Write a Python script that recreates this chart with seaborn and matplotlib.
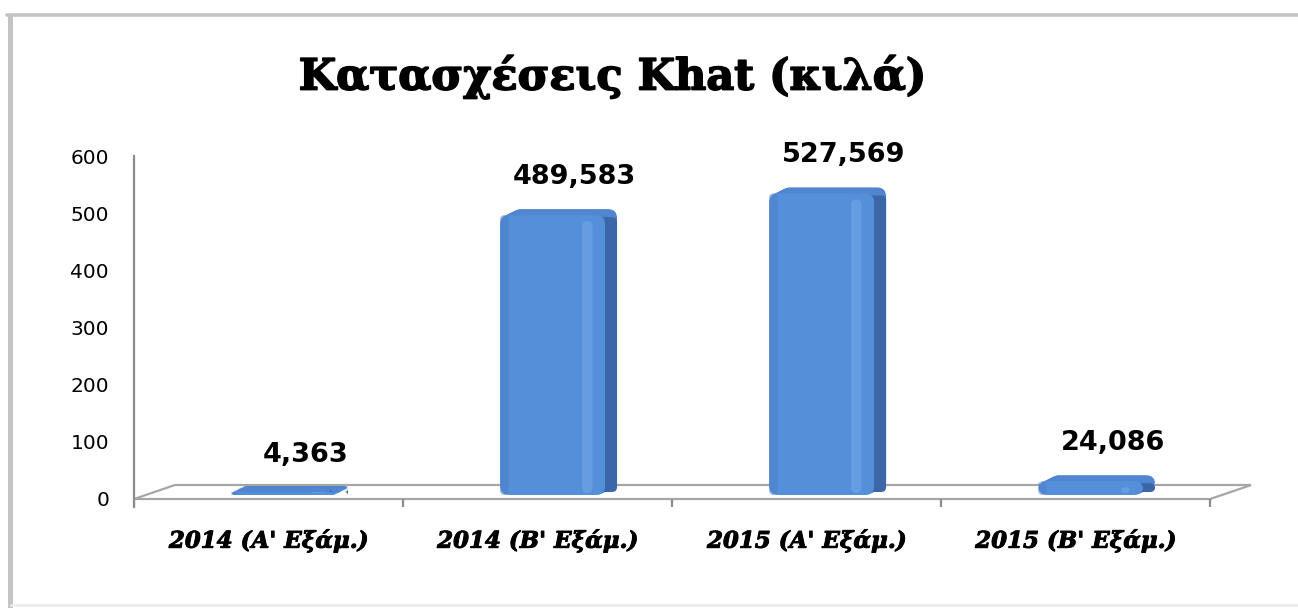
import numpy as np
import pandas as pd
import matplotlib
matplotlib.use("Agg")
import matplotlib.pyplot as plt
import matplotlib.patches as mpatches
import matplotlib.patheffects as pe
from matplotlib.lines import Line2D
import seaborn as sns

# Data: khat seizures per half-year (kg)
periods = ["2014 (Α' Εξάμ.)", "2014 (Β' Εξάμ.)", "2015 (Α' Εξάμ.)", "2015 (Β' Εξάμ.)"]
seizures_kg = [4.363, 489.583, 527.569, 24.086]
y_ticks = [0, 100, 200, 300, 400, 500, 600]
title = "Κατασχέσεις Khat (κιλά)"

df = pd.DataFrame({"Period": periods, "Kg": seizures_kg})

sns.set_style("white")
plt.rcParams['font.family'] = ['DejaVu Sans']
plt.rcParams['text.color'] = 'black'

W, H = 1298, 608
fig = plt.figure(figsize=(W / 100, H / 100), dpi=100)
fig.patch.set_facecolor("white")

# axes placed in pixel terms of the reference
left_px, right_px, top_px, bottom_px = 134, 1264, 156, 507
ax = fig.add_axes([left_px / W, (H - bottom_px) / H,
                   (right_px - left_px) / W, (bottom_px - top_px) / H])

front_color = "#568fd9"
back_color = "#4f86cf"
side_color = "#3b67a8"
axis_gray = "#8c8c8c"

sns.barplot(data=df, x="Period", y="Kg", width=0.39, color=front_color,
            saturation=1, ax=ax)

xmin, xmax, ymin, ymax = -0.5, 3.7, -14, 600
ax.set_xlim(xmin, xmax)
ax.set_ylim(ymin, ymax)

# pixel scale helpers
px_per_x = (right_px - left_px) / (xmax - xmin)
px_per_y = (bottom_px - top_px) / (ymax - ymin)
def dx(px):
    return px / px_per_x
def dy(px):
    return px / px_per_y

# 3D floor
n = len(periods)
floor_dx, floor_dy = dx(41), dy(14)
fl_kw = dict(color="#a6a6a6", lw=1.6, zorder=1, solid_capstyle="butt")
ax.plot([-0.5, n - 0.5], [0, 0], **fl_kw)
ax.plot([-0.5 + floor_dx, n - 0.5 + floor_dx], [floor_dy, floor_dy], **fl_kw)
ax.plot([-0.5, -0.5 + floor_dx], [0, floor_dy], **fl_kw)
ax.plot([n - 0.5, n - 0.5 + floor_dx], [0, floor_dy], **fl_kw)
ax.vlines(np.arange(n + 1) - 0.5, ymin, 0, color=axis_gray, lw=1.6, zorder=1)

def rbox(xy, w, h, r, **kw):
    return mpatches.FancyBboxPatch(xy, w, h, boxstyle=f"round,pad=0,rounding_size={r}",
                                   mutation_aspect=aspect, ec="none", **kw)

# turn flat bars into rounded extruded bars
aspect = px_per_x / px_per_y
shift_x, shift_y = dx(15), dy(4)
depth_x, depth_y = dx(12), dy(6)
r_px = 9
steps = 10
for p in ax.patches[:]:
    x0 = p.get_x() + shift_x
    y0 = p.get_y() + shift_y
    w = p.get_width()
    h = p.get_height()
    hh = max(h, dy(3))
    p.set_visible(False)
    r = min(dx(r_px), w / 2, h / aspect / 2 + dx(2.5))
    for k in range(steps, 0, -1):
        f = k / steps
        ax.add_patch(rbox((x0 + f * depth_x, y0 + f * depth_y), w, hh, r,
                          fc=back_color, zorder=3))
    # darker right side of the extrusion
    side_top = max(hh + depth_y - dy(r_px), dy(2))
    ax.add_patch(rbox((x0 + w - dx(6), y0 + depth_y * 0.5), dx(6) + depth_x,
                      side_top - depth_y * 0.5 + dy(1), min(r, dx(5)),
                      fc=side_color, zorder=3.5))
    ax.add_patch(rbox((x0, y0), w, hh, r, fc=front_color, zorder=4))
    ax.add_patch(rbox((x0 + 0.78 * w, y0 + dy(2)), 0.1 * w, max(h - dy(8), dy(1)),
                      min(0.05 * w, r), fc="#7fb0ee", alpha=0.4, zorder=5))
    ax.add_patch(rbox((x0, y0), 0.08 * w, hh, min(0.04 * w, r),
                      fc="#4a7fc6", alpha=0.5, zorder=5))
    ax.annotate(f"{h:.3f}".replace(".", ","),
                xy=(x0 + w / 2, y0 + h), xytext=(22 * 0.72, 38 * 0.72),
                textcoords="offset points", ha="center", va="center",
                fontsize=19.5, fontweight="bold", color="black", zorder=6)

# axes styling
for s in ["top", "right", "bottom"]:
    ax.spines[s].set_visible(False)
ax.spines["left"].set_color(axis_gray)
ax.spines["left"].set_linewidth(1.6)
ax.set_yticks(y_ticks)
ax.tick_params(axis="y", length=5, width=1.6, color=axis_gray, pad=13,
               labelsize=14.5, labelcolor="black")
ax.tick_params(axis="x", length=0, pad=16, labelcolor="black")
ax.set_xticks(range(n))
ax.set_xticklabels(periods, fontfamily="DejaVu Serif", fontstyle="italic",
                   fontweight="bold", fontsize=16.5,
                   path_effects=[pe.withStroke(linewidth=0.7, foreground="black")])
ax.set_xlabel("")
ax.set_ylabel("")
ax.grid(False)
ax.set_facecolor("none")

fig.text(612 / W, 1 - 77 / H, title, ha="center", va="center", color="black",
         fontfamily="DejaVu Serif", fontweight="bold", fontsize=31,
         path_effects=[pe.withStroke(linewidth=1.2, foreground="black")])

# outer frame with shadow edges
fig.add_artist(Line2D([7 / W, 1], [1 - 15 / H, 1 - 15 / H], color="#c4c4c4", lw=2.6))
fig.add_artist(Line2D([9.5 / W, 9.5 / W], [0, 1 - 15 / H], color="#c4c4c4", lw=3.6))
fig.add_artist(Line2D([11 / W, 1], [1 - 605 / H, 1 - 605 / H], color="#ececec", lw=2))

fig.savefig("out.png", dpi=100, facecolor="white")
